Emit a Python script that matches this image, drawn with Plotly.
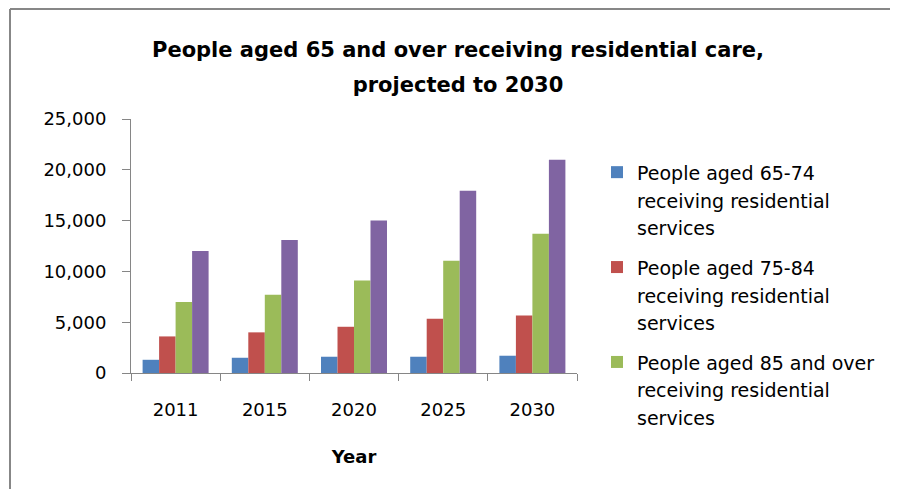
import plotly.graph_objects as go

years = ["2011", "2015", "2020", "2025", "2030"]
aged_65_74 = [1300, 1500, 1600, 1600, 1700]
aged_75_84 = [3600, 4000, 4550, 5350, 5650]
aged_85_over = [7000, 7700, 9100, 11050, 13700]
total_65_over = [12000, 13100, 15000, 17950, 21000]

series_names = [
    "People aged 65-74<br>receiving residential<br>services",
    "People aged 75-84<br>receiving residential<br>services",
    "People aged 85 and over<br>receiving residential<br>services",
    "Total people aged 65 and over<br>receiving residential<br>services",
]
series_values = [aged_65_74, aged_75_84, aged_85_over, total_65_over]
colors = ["#4F81BD", "#C0504D", "#9BBB59", "#8064A2"]
in_legend = [True, True, True, False]

title_lines = ["People aged 65 and over receiving residential care,",
               "projected to 2030"]

FONT = "DejaVu Sans"


def sized(text, size, bold=False):
    """Wrap each line in a span of the given size (line spacing follows the base size)."""
    parts = text.split("<br>")
    out = []
    for p in parts:
        s = f"<span style='font-size:{size}px'>{p}</span>"
        out.append(f"<b>{s}</b>" if bold else s)
    return "<br>".join(out)


fig = go.Figure()
for i, (name, vals, col, leg) in enumerate(zip(series_names, series_values, colors, in_legend)):
    fig.add_trace(go.Bar(x=years, y=vals, name=sized(name, 19), marker_color=col,
                         marker_line_width=0, showlegend=leg,
                         legendgroup=f"g{i}"))

# page body has an 8px default margin: figure origin sits at screen (8, 8)
OFF = 8
axis_col = "#868686"
W, H = 898 - OFF, 489 - OFF
L = 131 - OFF
T = 119 - OFF
R = 898 - 577
B = 489 - 373
pw, ph = W - L - R, H - T - B


def px_x(x):  # screen pixels -> paper
    return (x - OFF - L) / pw


def px_y(y):  # screen pixels -> paper
    return (H - B - (y - OFF)) / ph


def cy(y):  # screen pixels -> container fraction
    return 1 - (y - OFF) / H


fig.update_layout(
    width=W, height=H,
    margin=dict(l=L, r=R, t=T, b=B, autoexpand=False),
    paper_bgcolor="white", plot_bgcolor="white",
    barmode="group", bargap=0.26, bargroupgap=0,
    font=dict(family=FONT, size=18, color="black"),
    title=dict(
        text=sized("<br>".join(title_lines), 21, bold=True),
        x=px_x(458), xref="paper", xanchor="center",
        y=cy(57), yref="container", yanchor="top",
        font=dict(family=FONT, size=27, color="black"),
    ),
    xaxis=dict(
        showline=True, linecolor=axis_col, linewidth=1,
        ticks="outside", tickson="boundaries", ticklen=7, tickcolor=axis_col,
        showgrid=False, ticklabelstandoff=20,
        title=dict(text="<b>Year</b>", font=dict(size=18), standoff=31),
    ),
    yaxis=dict(
        range=[0, 25000], dtick=5000, tickformat=",",
        showline=True, linecolor=axis_col, linewidth=1,
        ticks="outside", ticklen=8, tickcolor=axis_col,
        showgrid=False, zeroline=False, ticklabelstandoff=12,
    ),
    legend=dict(
        x=px_x(597), xanchor="left", yref="container", y=cy(152), yanchor="top",
        font=dict(family=FONT, size=21), tracegroupgap=10, valign="top",
        bgcolor="rgba(0,0,0,0)", maxheight=330,
    ),
    shapes=[
        dict(type="line", xref="paper", yref="paper",
             x0=px_x(10), x1=px_x(898 + 5), y0=px_y(9), y1=px_y(9),
             line=dict(color="#878787", width=2)),
        dict(type="line", xref="paper", yref="paper",
             x0=px_x(10), x1=px_x(10), y0=px_y(9), y1=px_y(489 + 5),
             line=dict(color="#878787", width=2)),
    ],
)

fig.write_html("out.html")
